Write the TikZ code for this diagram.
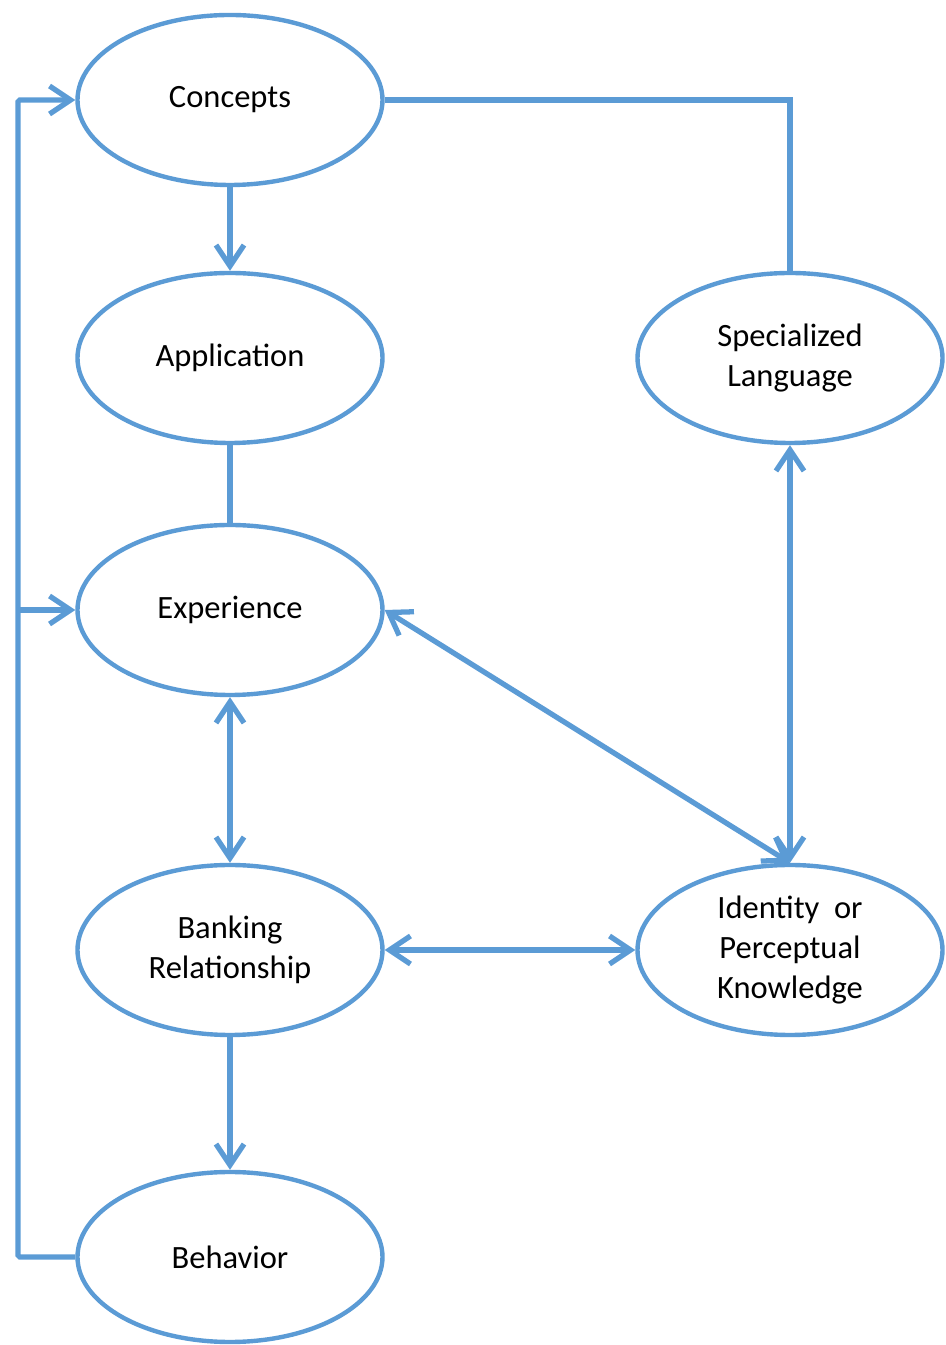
\documentclass[tikz,border=0pt]{standalone}
\usepackage{fontspec}
\setmainfont{Carlito}
\usepackage{xcolor}
\usepackage{tikz}
\usetikzlibrary{shapes.geometric, arrows.meta, positioning, calc}

\definecolor{linkblue}{RGB}{91,155,213}

\begin{document}
\begin{tikzpicture}[
    every node/.style={font=\fontsize{18.5}{23}\selectfont},
    bubble/.style={ellipse, draw=linkblue, line width=2.5pt, fill=white, align=center,
                   minimum width=6.1cm, minimum height=3.4cm, inner sep=0pt},
    link/.style={draw=linkblue, line width=3pt},
    arrow/.style={link, -{Straight Barb[length=0.42cm, width=0.56cm]}},
    both/.style={link, {Straight Barb[length=0.42cm, width=0.56cm]}-{Straight Barb[length=0.42cm, width=0.56cm]}}
]
\useasboundingbox (0,0) rectangle (18.92,26.9);

% === Left column ===
\node[bubble] (concepts) at (4.6, 24.9) {Concepts};
\node[bubble] (application) at (4.6, 19.74) {Application};
\node[bubble] (experience) at (4.6, 14.7) {Experience};
\node[bubble] (banking) at (4.6, 7.9) {Banking\\Relationship};
\node[bubble] (behavior) at (4.6, 1.76) {Behavior};

% === Right column ===
\node[bubble] (language) at (15.8, 19.74) {Specialized\\Language};
\node[bubble] (identity) at (15.8, 7.9) {Identity~~or\\Perceptual\\Knowledge};

\coordinate (loop) at (0.36, 1.76);

% === Connectors ===
\draw[arrow] (concepts) -- (application);
\draw[link] (application) -- (experience);
\draw[both] (experience) -- (banking);
\draw[arrow] (banking) -- (behavior);
\draw[both] (banking) -- (identity);
\draw[both] (experience.east) -- (identity.north);
\draw[both] (language) -- (identity);
\draw[link] (concepts.east) -| (language.north);

% feedback loop on the left
\draw[arrow, rounded corners=1pt] (behavior.west) -- (loop) |- (concepts.west);
\draw[arrow] (experience.west -| loop) -- (experience.west);

\end{tikzpicture}
\end{document}
